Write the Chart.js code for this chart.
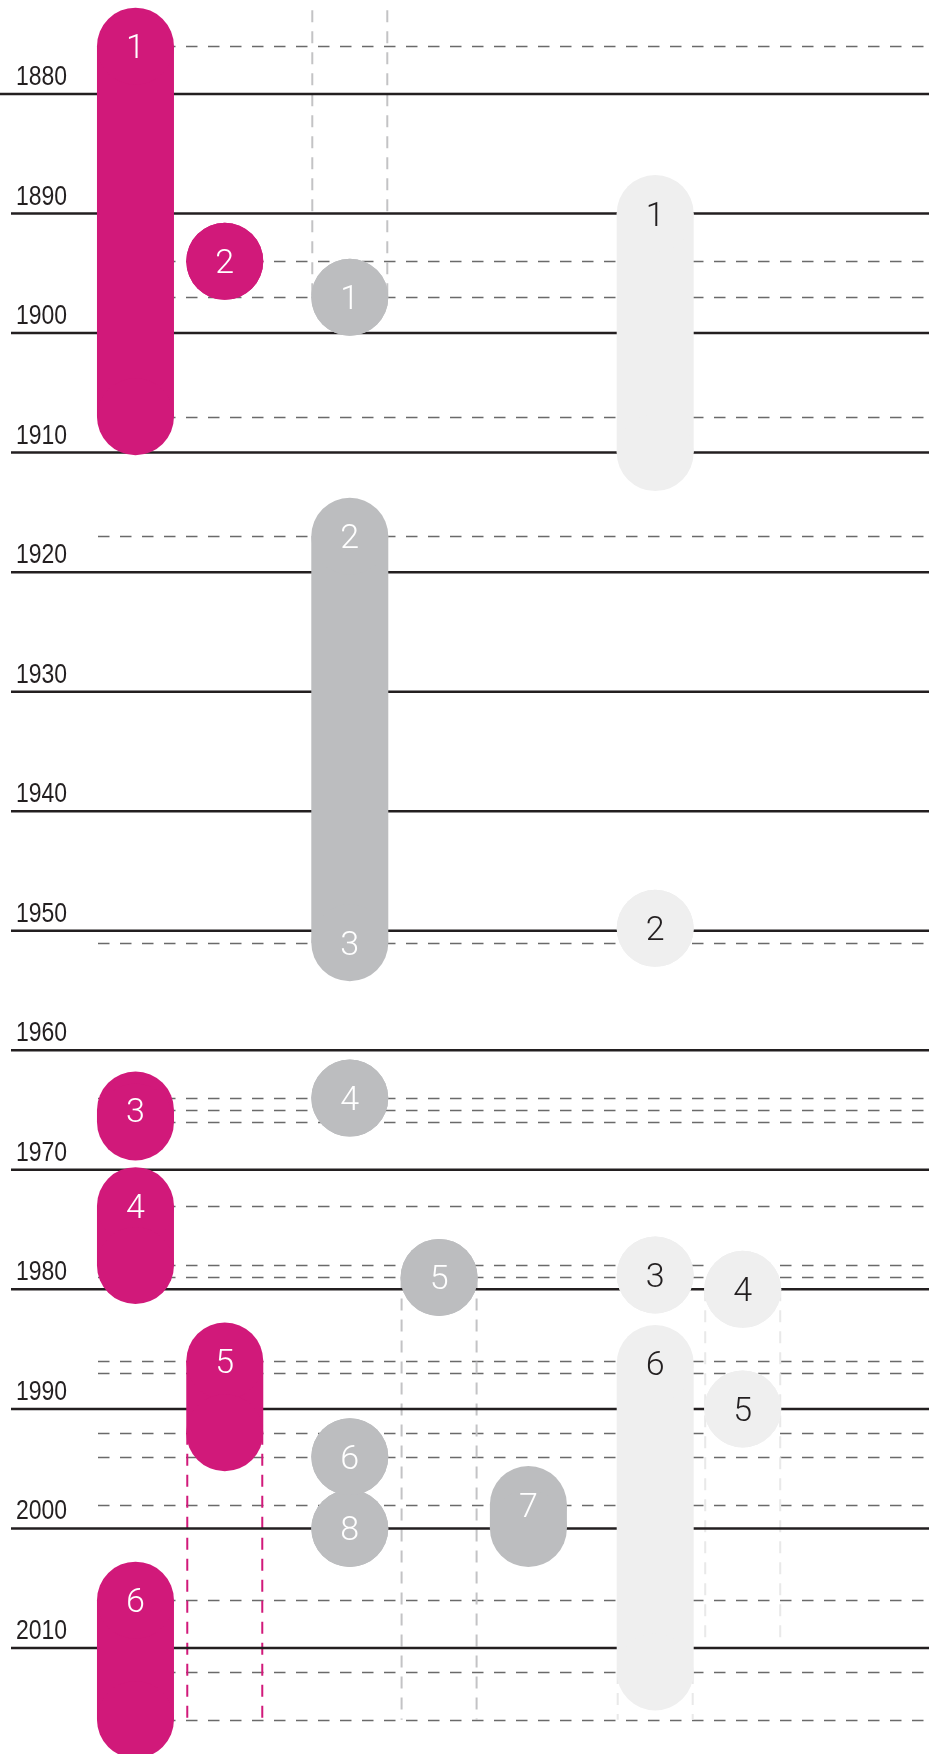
<!DOCTYPE html>
<html lang="en">
<head>
<meta charset="UTF-8">
<title>Timeline</title>
<style>
  body {
    margin: 0;
    background: #fff;
  }
  #wrap {
    width: 929px;
    height: 1754px;
  }
</style>
<script src="https://cdn.jsdelivr.net/npm/chart.js"></script>
</head>
<body>
<div id="wrap">
  <canvas id="timeline" width="929" height="1754"></canvas>
</div>

<script>
// decade rulers and the dashed guide years
const decades = [1880, 1890, 1900, 1910, 1920, 1930, 1940, 1950, 1960, 1970, 1980, 1990, 2000, 2010];
const guideYears = [1876, 1894, 1897, 1907, 1917, 1951, 1964, 1965, 1966, 1973, 1978, 1979,
                    1986, 1987, 1992, 1994, 1998, 2006, 2012, 2016];

// magenta events
const magentaLabels = ['1', '2', '3', '4', '5', '6'];
const magentaColumn = [1, 2, 1, 1, 2, 1];
const magentaStart = [1876, 1894, 1965, 1973, 1986, 2006];
const magentaEnd = [1907, 1894, 1966, 1978, 1992, 2016];

// grey events (event 2 runs to 3)
const greyLabels = ['1', '2', '4', '5', '6', '7', '8'];
const greyEndLabels = ['', '3', '', '', '', '', ''];
const greyColumn = [3.4, 3.4, 3.4, 4.4, 3.4, 5.4, 3.4];
const greyStart = [1897, 1917, 1964, 1979, 1994, 1998, 2000];
const greyEnd = [1897, 1951, 1964, 1979, 1994, 2000, 2000];

// light grey events
const lightLabels = ['1', '2', '3', '4', '5', '6'];
const lightColumn = [6.82, 6.82, 6.82, 7.8, 7.8, 6.82];
const lightStart = [1890, 1949.8, 1978.8, 1980, 1990, 1986.2];
const lightEnd = [1910, 1949.8, 1978.8, 1980, 1990, 2012];

// vertical dashed guides along column edges
const vGuideGroup = ['grey', 'magenta', 'grey', 'light', 'light'];
const vGuideColumn = [3.4, 2, 4.4, 6.82, 7.8];
const vGuideFrom = [1873, 1992, 1979, 2012, 1980];
const vGuideTo = [1897, 2016, 2016, 2016, 2009.6];

const colors = {
  magenta: '#d1197a',
  grey: '#bcbdbf',
  light: '#efefef'
};
const guideColors = {
  magenta: '#d1197a',
  grey: '#c3c3c5',
  light: '#e9e9e9'
};
const BAR_W = 77;

function buildDatasets(group, cols, starts, ends) {
  return cols.map((c, i) => ({
    data: [{x: c, y: starts[i]}, {x: c, y: ends[i]}],
    borderColor: colors[group],
    borderWidth: BAR_W,
    borderCapStyle: 'butt',
    pointRadius: BAR_W / 2,
    pointBackgroundColor: colors[group],
    pointBorderWidth: 0,
    pointHoverRadius: BAR_W / 2,
    tension: 0,
    fill: false,
    clip: false
  }));
}

const datasets = [].concat(
  buildDatasets('magenta', magentaColumn, magentaStart, magentaEnd),
  buildDatasets('grey', greyColumn, greyStart, greyEnd),
  buildDatasets('light', lightColumn, lightStart, lightEnd)
);

const backdrop = {
  id: 'backdrop',
  beforeDatasetsDraw(chart) {
    const ctx = chart.ctx;
    const xs = chart.scales.x, ys = chart.scales.y;
    const w = chart.width;
    ctx.save();

    // dashed guides
    ctx.strokeStyle = '#6a6a6a';
    ctx.lineWidth = 1.4;
    ctx.setLineDash([11.5, 10.5]);
    guideYears.forEach(yr => {
      const y = Math.round(ys.getPixelForValue(yr)) + 0.5;
      ctx.beginPath();
      ctx.moveTo(98, y);
      ctx.lineTo(w, y);
      ctx.stroke();
    });

    // vertical guides
    ctx.lineWidth = 2;
    ctx.setLineDash([12, 9]);
    vGuideColumn.forEach((c, i) => {
      ctx.strokeStyle = guideColors[vGuideGroup[i]];
      const cx = xs.getPixelForValue(c);
      const y0 = ys.getPixelForValue(vGuideFrom[i]);
      const y1 = ys.getPixelForValue(vGuideTo[i]);
      [cx - BAR_W / 2 + 1, cx + BAR_W / 2 - 1].forEach(x => {
        ctx.beginPath();
        ctx.moveTo(x, y0);
        ctx.lineTo(x, y1);
        ctx.stroke();
      });
    });

    // decade rulers + labels
    ctx.setLineDash([]);
    ctx.strokeStyle = '#231f20';
    ctx.lineWidth = 2.5;
    ctx.fillStyle = '#231f20';
    ctx.font = '28px "Liberation Sans", Arial, sans-serif';
    ctx.textBaseline = 'alphabetic';
    decades.forEach((yr, i) => {
      const y = ys.getPixelForValue(yr);
      ctx.beginPath();
      ctx.moveTo(i === 0 ? 0 : 11, y);
      ctx.lineTo(w, y);
      ctx.stroke();
      ctx.save();
      ctx.translate(16, y - 9);
      ctx.scale(0.82, 1);
      ctx.fillText(String(yr), 0, 0);
      ctx.restore();
    });
    ctx.restore();
  },
  afterDatasetsDraw(chart) {
    const ctx = chart.ctx;
    const xs = chart.scales.x, ys = chart.scales.y;
    ctx.save();
    ctx.font = '300 34px Roboto, "Open Sans", sans-serif';
    ctx.textAlign = 'center';
    ctx.textBaseline = 'alphabetic';
    function put(txt, col, yr, color) {
      if (!txt) return;
      ctx.fillStyle = color;
      ctx.fillText(txt, xs.getPixelForValue(col), ys.getPixelForValue(yr) + 12);
    }
    magentaLabels.forEach((t, i) => put(t, magentaColumn[i], magentaStart[i], '#ffffff'));
    greyLabels.forEach((t, i) => {
      put(t, greyColumn[i], greyStart[i], '#ffffff');
      put(greyEndLabels[i], greyColumn[i], greyEnd[i], '#ffffff');
    });
    lightLabels.forEach((t, i) => put(t, lightColumn[i], lightStart[i], '#231f20'));
    ctx.restore();
  }
};

new Chart(document.getElementById('timeline').getContext('2d'), {
  type: 'line',
  data: { datasets: datasets },
  options: {
    responsive: false,
    animation: false,
    events: [],
    layout: { padding: 0, autoPadding: false },
    plugins: {
      legend: { display: false },
      tooltip: { enabled: false }
    },
    scales: {
      x: { type: 'linear', min: -0.517, max: 9.886, display: false },
      y: { type: 'linear', min: 1872.137, max: 2018.87, reverse: true, display: false }
    }
  },
  plugins: [backdrop]
});
</script>
</body>
</html>
